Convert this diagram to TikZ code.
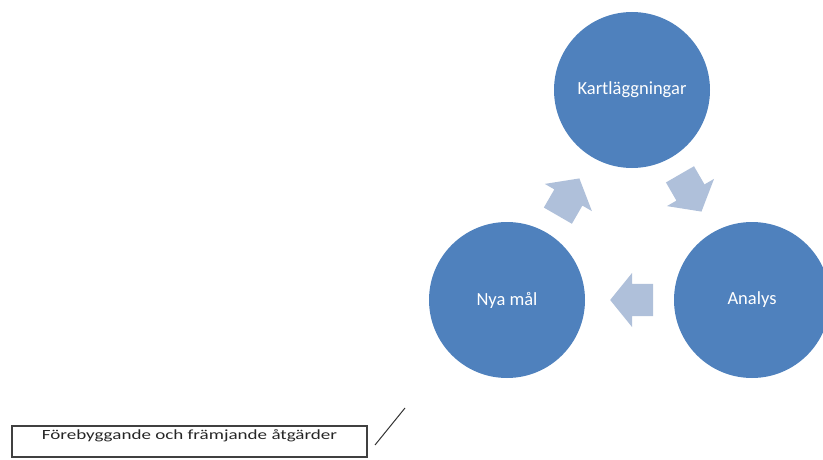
\documentclass[tikz,border=0pt]{standalone}
\usepackage{fontspec}
\setmainfont{Carlito}
\newfontfamily\boxfont[FakeStretch=1.36]{Carlito}
\usetikzlibrary{positioning}
\usetikzlibrary{calc}
\usetikzlibrary{shapes.arrows}
\definecolor{circleblue}{HTML}{4F81BD}
\definecolor{arrowblue}{HTML}{AFC0DA}

\begin{document}
\begin{tikzpicture}[x=1pt, y=1pt,
    phase/.style={circle, fill=circleblue, minimum size=156pt, inner sep=0pt, text=white, font=\fontsize{18.5}{20}\selectfont},
    cyclearrow/.style={single arrow, fill=arrowblue, anchor=tip, minimum height=43pt, inner xsep=0pt, inner ysep=16pt, single arrow head extend=11pt, single arrow tip angle=102}]
            \useasboundingbox (0,0) rectangle (823,459);

            \node[phase] (kart) at (632,369) {Kartläggningar};
            \node[phase] (nya) at (507,159) {Nya mål};
            \node[phase] (analys) at (752,159) {Analys};

            \node[cyclearrow, rotate=60] (a1) at ($(nya)!0.58!(kart)$) {};
            \node[cyclearrow, rotate=-60] (a2) at ($(kart)!0.58!(analys)$) {};
            \node[cyclearrow, rotate=180] (a3) at ($(analys)!0.58!(nya)$) {};

            \node[draw=black!75, line width=1.2pt, minimum width=355pt, inner sep=0pt, text height=13.5pt, text depth=17.5pt, text=black!85, font=\boxfont\fontsize{14}{16}\selectfont] (tiltak) at (189.5,17.5) {Förebyggande och främjande åtgärder};

            \coordinate (s1) at (375,14);
            \coordinate (s2) at (405,51);
            \draw[black!80, line width=1pt] (s1) -- (s2);
\end{tikzpicture}
\end{document}
